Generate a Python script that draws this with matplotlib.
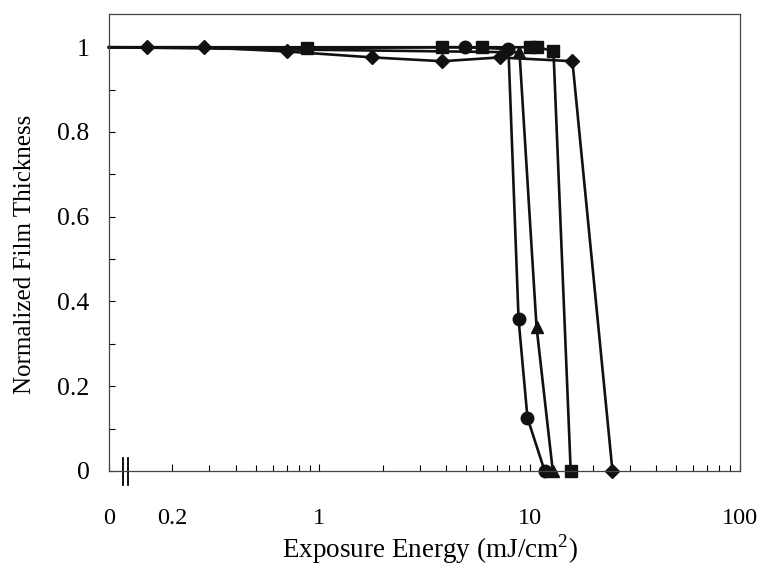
import matplotlib
matplotlib.use("Agg")
import matplotlib.pyplot as plt
from matplotlib.ticker import NullFormatter

# Exposure 0 is drawn at the left edge of the log axis (0.1), past the break
ZERO_POS = 0.1

# diamond series
dia_x = [0, 0.152, 0.283, 0.70, 1.79, 3.85, 7.2, 16.0, 24.8]
dia_y = [1.0, 1.0, 1.0, 0.99, 0.976, 0.967, 0.976, 0.967, 0.0]
# square series
sq_x = [0, 0.877, 3.85, 5.97, 10.0, 10.9, 13.0, 15.7]
sq_y = [1.0, 0.998, 1.0, 1.0, 1.0, 1.0, 0.991, 0.0]
# circle series
circ_x = [0, 4.96, 7.94, 8.87, 9.78, 11.8]
circ_y = [1.0, 1.0, 0.996, 0.358, 0.125, 0.0]
# triangle series
tri_x = [0, 8.96, 10.8, 12.9]
tri_y = [1.0, 0.988, 0.34, 0.0]

x_tick_vals = [0.1, 0.2, 1, 10, 100]
x_tick_labels = ["0", "0.2", "1", "10", "100"]
y_tick_vals = [0, 0.2, 0.4, 0.6, 0.8, 1.0]
y_tick_labels = ["0", "0.2", "0.4", "0.6", "0.8", "1"]


def pos(xs):
    return [ZERO_POS if v == 0 else v for v in xs]


plt.rcParams["font.family"] = ["Liberation Serif", "DejaVu Serif"]
plt.rcParams["mathtext.fontset"] = "custom"
plt.rcParams["mathtext.rm"] = "Liberation Serif"

fig = plt.figure(figsize=(7.65, 5.68), dpi=100)
ax = fig.add_axes([0.1425, 0.171, 0.8245, 0.804])

# no marker on the zero-exposure point
line_kw = dict(color="#111111", lw=1.9, clip_on=False, markevery=slice(1, None))
ax.plot(pos(dia_x), dia_y, marker="D", ms=7.5, **line_kw)
ax.plot(pos(circ_x), circ_y, marker="o", ms=9, **line_kw)
ax.plot(pos(tri_x), tri_y, marker="^", ms=9, **line_kw)
ax.plot(pos(sq_x), sq_y, marker="s", ms=9, **line_kw)

ax.set_xscale("log")
ax.set_xlim(0.1, 100)
ax.set_ylim(0, 1.078)

ax.set_xticks(x_tick_vals)
ax.set_xticklabels(x_tick_labels)
minor = [m * d for d in (0.1, 1, 10) for m in range(2, 10)]
minor = [v for v in minor if v > 0.25]
ax.set_xticks(minor, minor=True)
ax.xaxis.set_minor_formatter(NullFormatter())
ax.set_yticks(y_tick_vals)
ax.set_yticklabels(y_tick_labels)
ax.set_yticks([0.1, 0.3, 0.5, 0.7, 0.9], minor=True)

ax.tick_params(axis="x", which="both", direction="in", length=4, width=0.8,
               pad=27, labelsize=17.5, top=False)
ax.tick_params(axis="y", which="both", direction="in", length=4, width=0.8,
               pad=14, labelsize=18.5, right=False)
ax.tick_params(axis="x", which="major", length=5)

for s in ax.spines.values():
    s.set_color("#444444")
    s.set_linewidth(0.9)

# axis break marks "||"
for bx in (0.1162, 0.1235):
    ax.plot([bx, bx], [-0.033, 0.031], color="black", lw=1.3, clip_on=False)

ax.set_xlabel(r"Exposure Energy (mJ/cm$^{\mathrm{2}}$)", fontsize=19.5)
ax.set_ylabel("Normalized Film Thickness", fontsize=18)
ax.xaxis.set_label_coords(0.509, -0.135)
ax.yaxis.set_label_coords(-0.115, 0.475)

fig.savefig("out.png", dpi=100)
